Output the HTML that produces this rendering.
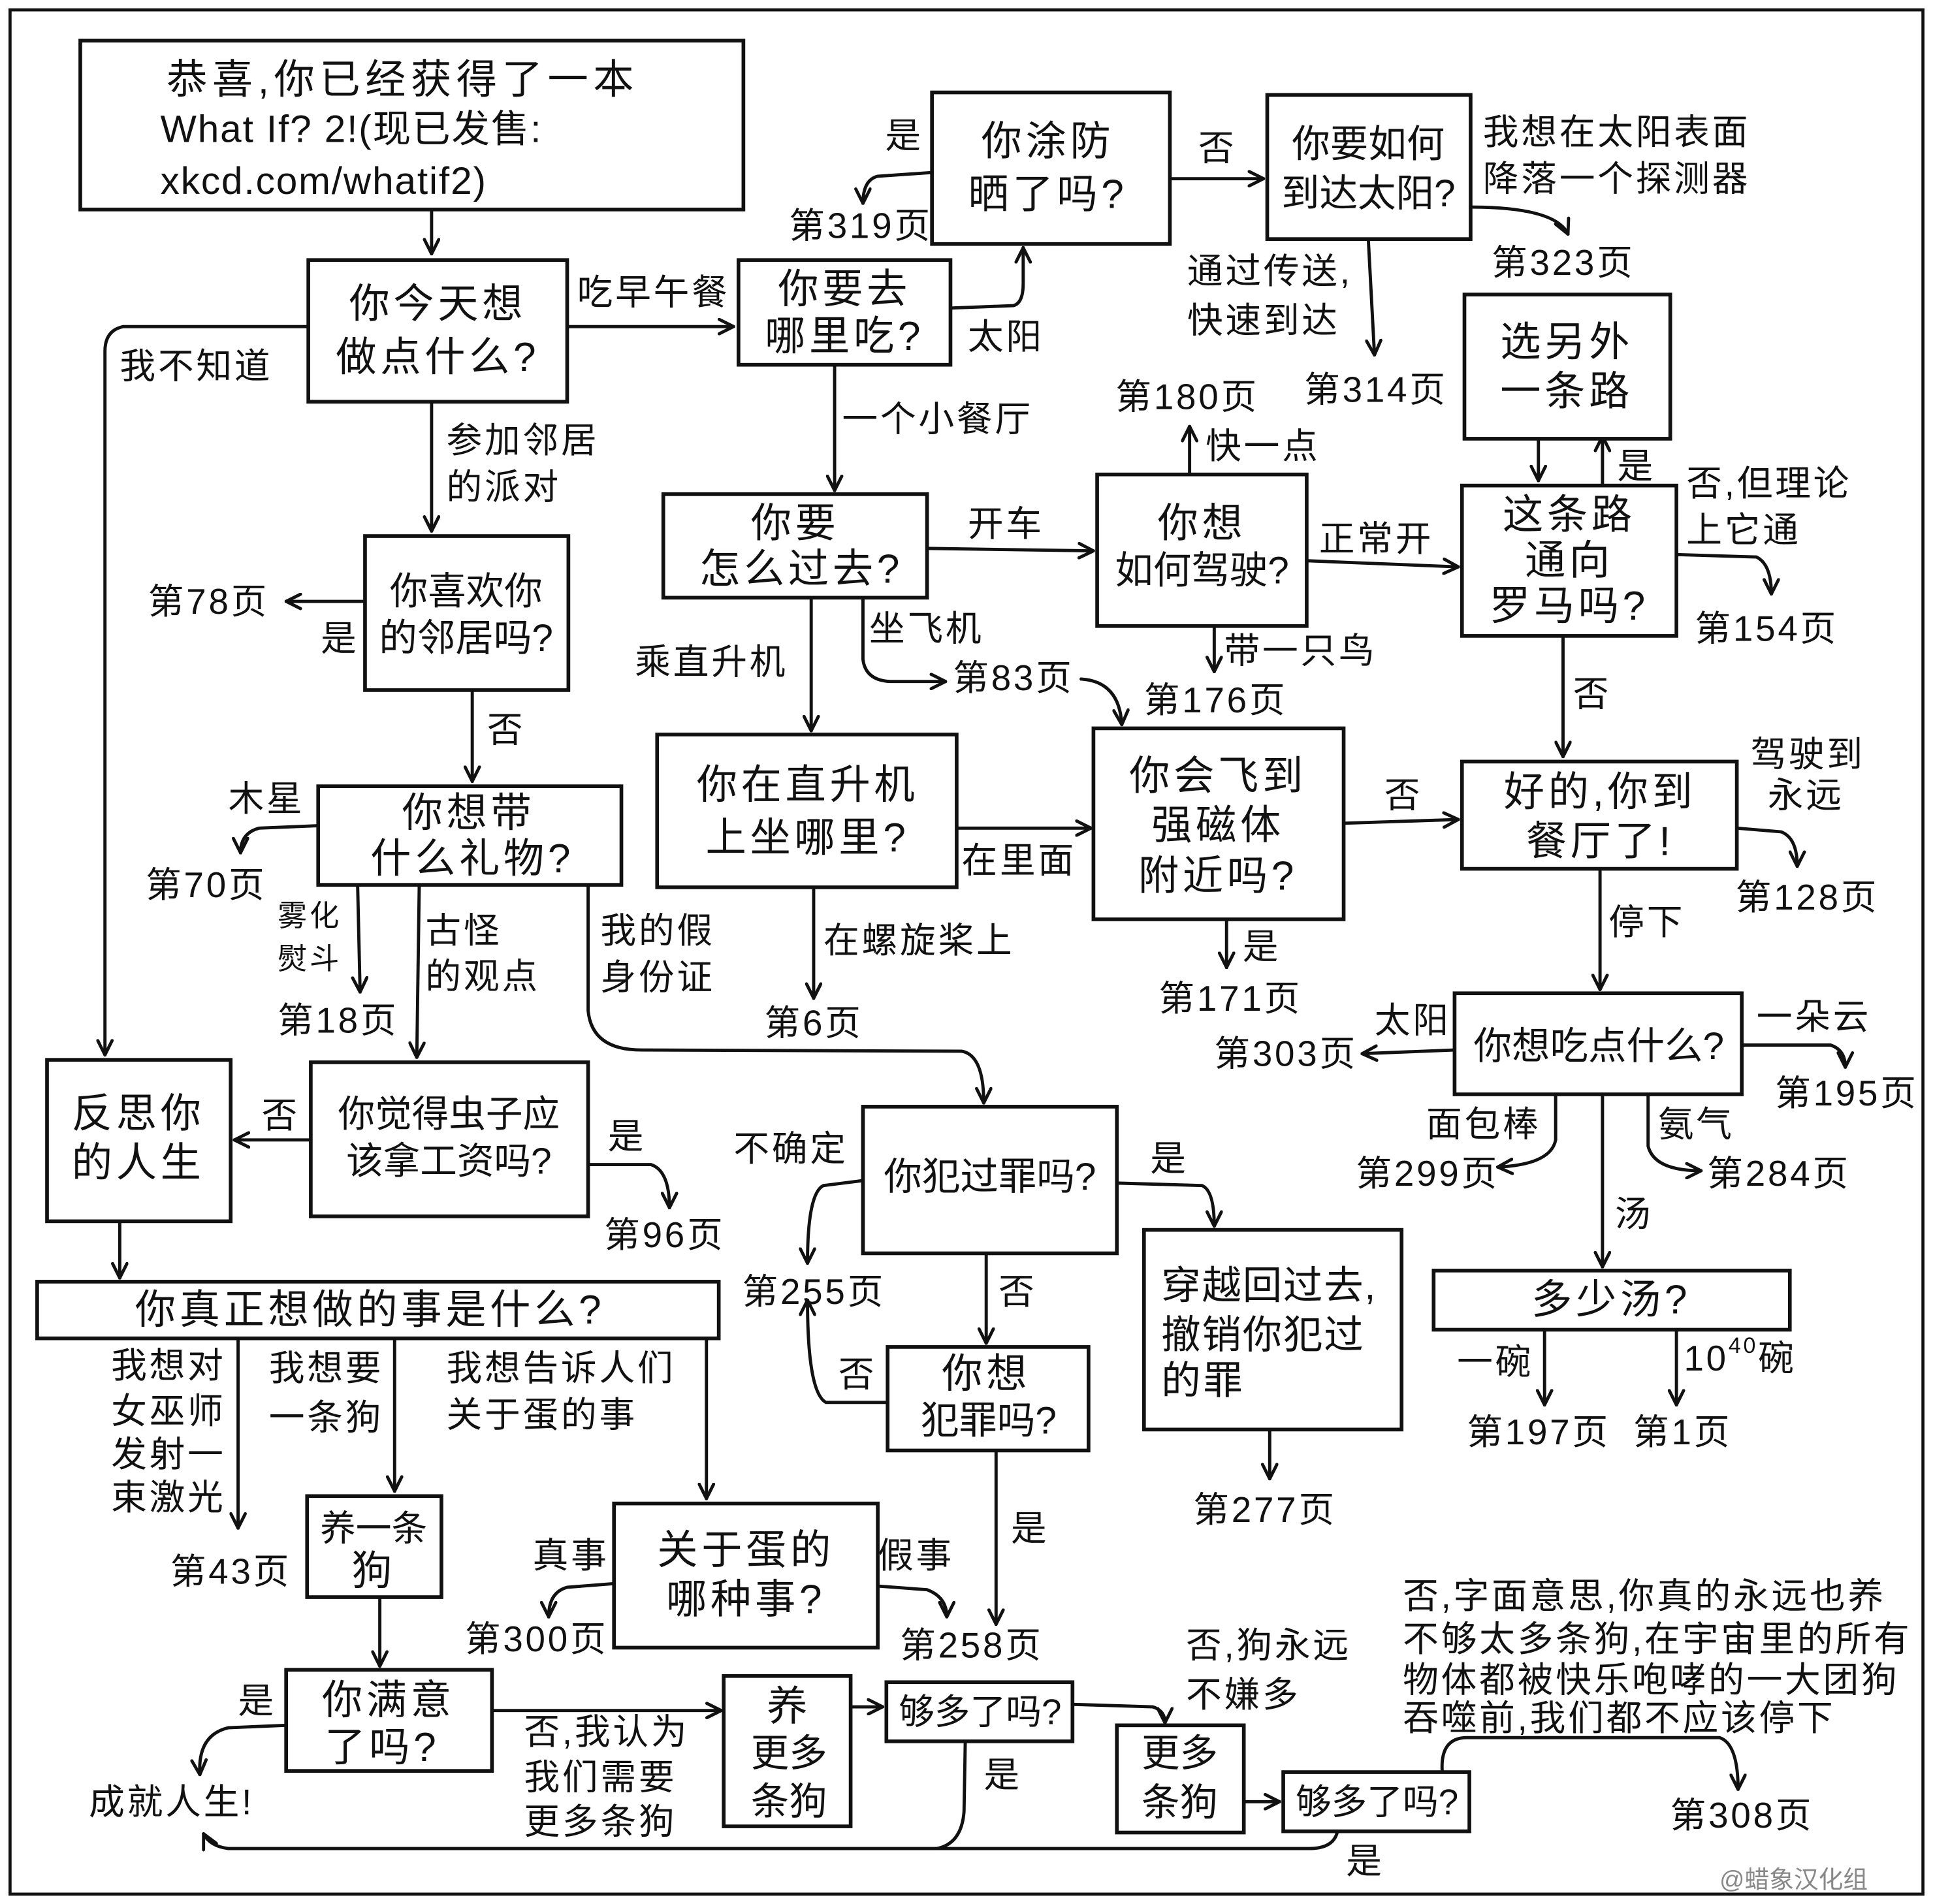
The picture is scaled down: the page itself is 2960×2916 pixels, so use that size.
<!DOCTYPE html>
<html><head><meta charset="utf-8">
<style>
html,body{margin:0;padding:0;background:#fff;}
svg{display:block;}
text{font-family:"Liberation Sans","Noto Sans CJK SC",sans-serif;fill:#111;dominant-baseline:central;}
.b{font-size:33px;letter-spacing:3px;text-anchor:middle;}
.t{letter-spacing:0px;font-size:31px;}
.l{font-size:29px;letter-spacing:2px;}
.s{font-size:24px;}
rect{fill:#fff;stroke:#111;stroke-width:3;}
path,line{fill:none;stroke:#111;stroke-width:2.6;stroke-linecap:round;}
</style></head><body>
<svg width="2960" height="2916" viewBox="0 0 1568 1545" xmlns="http://www.w3.org/2000/svg">
<defs><marker id="a" viewBox="0 0 12 12" refX="11" refY="6" markerWidth="14" markerHeight="14" markerUnits="userSpaceOnUse" orient="auto"><path d="M1,1 L11,6 L1,11" style="stroke-width:2.2"/></marker></defs>
<rect x="8" y="8" width="1552" height="1529" style="stroke-width:2.5"/>

<g marker-end="url(#a)">
<path d="M350,170 L350,206"/>
<path d="M460,265 L595,265"/>
<path d="M250,265 L100,265 Q85,268 85,285 L85,856"/>
<path d="M350,326 L350,431"/>
<path d="M771,250 L822,248 Q830,246 830,230 L830,201"/>
<path d="M677,296 L677,398"/>
<path d="M756,140 L712,143 Q700,146 700,165"/>
<path d="M949,145 L1025,145"/>
<path d="M1192,168 Q1262,168 1272,190"/>
<path d="M1110,194 L1115,288"/>
<path d="M1248,356 L1248,390"/>
<path d="M1300,394 L1300,354"/>
<path d="M1360,450 L1425,452 Q1437,458 1437,482"/>
<path d="M1268,516 L1268,614"/>
<path d="M965,385 L965,346"/>
<path d="M1060,455 L1183,460"/>
<path d="M985,508 L985,545"/>
<path d="M752,445 L887,447"/>
<path d="M658,485 L658,593"/>
<path d="M700,485 L700,535 Q702,552 722,553 L767,553"/>
<path d="M877,551 Q908,553 910,588"/>
<path d="M296,488 L232,488"/>
<path d="M383,560 L383,634"/>
<path d="M258,670 L210,672 Q195,676 195,692"/>
<path d="M290,718 L292,805"/>
<path d="M340,718 L338,858"/>
<path d="M477,718 L477,820 Q480,852 520,852 L780,853 Q798,856 798,895"/>
<path d="M776,672 L885,672"/>
<path d="M660,720 L660,810"/>
<path d="M1090,668 L1183,665"/>
<path d="M995,746 L995,785"/>
<path d="M1409,672 L1445,675 Q1458,680 1458,703"/>
<path d="M1298,705 L1298,803"/>
<path d="M1180,852 L1105,855"/>
<path d="M1413,848 L1485,848 Q1497,852 1497,866"/>
<path d="M1262,888 L1262,925 Q1258,945 1215,947"/>
<path d="M1337,888 L1337,930 Q1342,950 1380,950"/>
<path d="M1300,888 L1300,1028"/>
<path d="M1253,1079 L1253,1140"/>
<path d="M1360,1079 L1360,1140"/>
<path d="M252,925 L190,925"/>
<path d="M477,945 L528,945 Q543,950 543,980"/>
<path d="M97,991 L97,1037"/>
<path d="M193,1086 L193,1240"/>
<path d="M320,1086 L320,1210"/>
<path d="M573,1086 L573,1216"/>
<path d="M700,958 L668,962 Q655,968 655,1025"/>
<path d="M720,1138 L670,1138 Q655,1130 655,1055"/>
<path d="M906,960 L975,962 Q985,966 985,995"/>
<path d="M800,1017 L800,1090"/>
<path d="M1030,1160 L1030,1200"/>
<path d="M808,1177 L808,1318"/>
<path d="M498,1285 L460,1288 Q445,1292 445,1312"/>
<path d="M712,1287 L752,1290 Q768,1296 768,1312"/>
<path d="M308,1296 L308,1352"/>
<path d="M232,1400 L185,1402 Q160,1408 162,1440"/>
<path d="M399,1388 L585,1388"/>
<path d="M690,1385 L716,1385"/>
<path d="M870,1383 L935,1385 Q945,1388 945,1398"/>
<path d="M1085,1486 Q1082,1500 1062,1500 L185,1500 Q170,1498 165,1488"/>
<path d="M1009,1462 L1038,1462"/>
<path d="M1170,1438 Q1168,1410 1190,1410 L1395,1410 Q1410,1415 1410,1452"/>
</g>
<path d="M783,1413 L782,1470 Q780,1496 760,1500"/>

<rect x="65" y="33" width="538" height="137"/>
<text class="l" style="font-size:33px;letter-spacing:4px" x="135" y="65">恭喜,你已经获得了一本</text>
<text class="l" style="font-size:31px;letter-spacing:1px" x="130" y="105">What If? 2!(现已发售:</text>
<text class="l" style="font-size:31px;letter-spacing:1px" x="130" y="147">xkcd.com/whatif2)</text>

<rect x="250" y="211" width="210" height="115"/>
<text class="b" x="355" y="247">你今天想</text><text class="b" x="355" y="290">做点什么?</text>
<rect x="599" y="211" width="172" height="85"/>
<text class="b" x="685" y="235">你要去</text><text class="b" x="685" y="273">哪里吃?</text>
<rect x="756" y="75" width="193" height="123"/>
<text class="b" x="850" y="115">你涂防</text><text class="b" x="850" y="158">晒了吗?</text>
<rect x="1028" y="77" width="165" height="117"/>
<text class="b t" x="1110" y="117">你要如何</text><text class="b t" x="1110" y="157">到达太阳?</text>
<rect x="1188" y="239" width="167" height="117"/>
<text class="b" x="1271" y="278">选另外</text><text class="b" x="1271" y="318">一条路</text>
<rect x="1186" y="394" width="174" height="122"/>
<text class="b" x="1273" y="418">这条路</text><text class="b" x="1273" y="455">通向</text><text class="b" x="1273" y="492">罗马吗?</text>
<rect x="890" y="385" width="170" height="123"/>
<text class="b" x="975" y="425">你想</text><text class="b t" x="975" y="463">如何驾驶?</text>
<rect x="538" y="401" width="214" height="84"/>
<text class="b" x="645" y="425">你要</text><text class="b" x="650" y="462">怎么过去?</text>
<rect x="296" y="435" width="165" height="125"/>
<text class="b t" x="378" y="480">你喜欢你</text><text class="b t" x="378" y="518">的邻居吗?</text>
<rect x="258" y="638" width="246" height="80"/>
<text class="b" x="380" y="660">你想带</text><text class="b" x="383" y="697">什么礼物?</text>
<rect x="533" y="596" width="243" height="124"/>
<text class="b" x="655" y="637">你在直升机</text><text class="b" x="655" y="680">上坐哪里?</text>
<rect x="887" y="591" width="203" height="155"/>
<text class="b" x="988" y="630">你会飞到</text><text class="b" x="988" y="670">强磁体</text><text class="b" x="988" y="711">附近吗?</text>
<rect x="1186" y="618" width="223" height="87"/>
<text class="b" x="1298" y="643">好的,你到</text><text class="b" x="1298" y="683">餐厅了!</text>
<rect x="1180" y="806" width="233" height="82"/>
<text class="b t" x="1297" y="849">你想吃点什么?</text>
<rect x="1163" y="1031" width="289" height="48"/>
<text class="b" x="1307" y="1055">多少汤?</text>
<rect x="38" y="860" width="149" height="131"/>
<text class="b" x="112" y="904">反思你</text><text class="b" x="112" y="944">的人生</text>
<rect x="252" y="862" width="225" height="125"/>
<text class="b t" style="font-size:30px" x="364" y="904">你觉得虫子应</text><text class="b t" style="font-size:30px" x="364" y="942">该拿工资吗?</text>
<rect x="30" y="1040" width="553" height="46"/>
<text class="b" x="300" y="1063">你真正想做的事是什么?</text>
<rect x="700" y="898" width="206" height="119"/>
<text class="b t" x="803" y="955">你犯过罪吗?</text>
<rect x="928" y="998" width="209" height="162"/>
<text class="l" style="font-size:32px;letter-spacing:1px" x="942" y="1043">穿越回过去,</text><text class="l" style="font-size:32px;letter-spacing:1px" x="942" y="1083">撤销你犯过</text><text class="l" style="font-size:32px" x="942" y="1120">的罪</text>
<rect x="720" y="1093" width="163" height="84"/>
<text class="b" x="800" y="1115">你想</text><text class="b t" x="802" y="1153">犯罪吗?</text>
<rect x="249" y="1214" width="109" height="82"/>
<text class="b t" style="font-size:29px" x="303" y="1240">养一条</text><text class="b" x="303" y="1275">狗</text>
<rect x="498" y="1220" width="214" height="117"/>
<text class="b" x="605" y="1258">关于蛋的</text><text class="b" x="605" y="1298">哪种事?</text>
<rect x="232" y="1355" width="167" height="82"/>
<text class="b" x="315" y="1380">你满意</text><text class="b" x="310" y="1418">了吗?</text>
<rect x="587" y="1360" width="103" height="122"/>
<text class="b" x="640" y="1385">养</text><text class="b t" x="640" y="1423">更多</text><text class="b t" x="640" y="1462">条狗</text>
<rect x="719" y="1365" width="151" height="48"/>
<text class="b t" style="font-size:29px" x="795" y="1389">够多了吗?</text>
<rect x="906" y="1400" width="103" height="87"/>
<text class="b t" x="957" y="1423">更多</text><text class="b t" x="957" y="1463">条狗</text>
<rect x="1041" y="1438" width="151" height="48"/>
<text class="b t" style="font-size:29px" x="1117" y="1462">够多了吗?</text>

<g class="l">
<text x="468" y="237">吃早午餐</text>
<text x="97" y="297">我不知道</text>
<text x="362" y="357">参加邻居</text><text x="362" y="395">的派对</text>
<text x="785" y="273">太阳</text>
<text x="683" y="340">一个小餐厅</text>
<text x="718" y="110">是</text>
<text x="640" y="183">第319页</text>
<text x="972" y="120">否</text>
<text x="1203" y="107">我想在太阳表面</text><text x="1203" y="145">降落一个探测器</text>
<text x="1210" y="213">第323页</text>
<text x="963" y="220">通过传送,</text><text x="963" y="260">快速到达</text>
<text x="1058" y="316">第314页</text>
<text x="1312" y="378">是</text>
<text x="1368" y="392">否,但理论</text><text x="1368" y="430">上它通</text>
<text x="1375" y="510">第154页</text>
<text x="1276" y="563">否</text>
<text x="978" y="362">快一点</text>
<text x="905" y="322">第180页</text>
<text x="1070" y="437">正常开</text>
<text x="993" y="528">带一只鸟</text>
<text x="928" y="568">第176页</text>
<text x="785" y="425">开车</text>
<text x="515" y="537">乘直升机</text>
<text x="705" y="510">坐飞机</text>
<text x="773" y="550">第83页</text>
<text x="120" y="488">第78页</text>
<text x="260" y="518">是</text>
<text x="395" y="592">否</text>
<text x="185" y="648">木星</text>
<text x="118" y="718">第70页</text>
<text class="s" x="225" y="743">雾化</text><text class="s" x="225" y="778">熨斗</text>
<text x="225" y="828">第18页</text>
<text x="345" y="755">古怪</text><text x="345" y="792">的观点</text>
<text x="487" y="755">我的假</text><text x="487" y="793">身份证</text>
<text x="780" y="698">在里面</text>
<text x="668" y="763">在螺旋桨上</text>
<text x="620" y="830">第6页</text>
<text x="1123" y="645">否</text>
<text x="1008" y="768">是</text>
<text x="940" y="810">第171页</text>
<text x="1420" y="612">驾驶到</text><text x="1434" y="645">永远</text>
<text x="1408" y="728">第128页</text>
<text x="1305" y="748">停下</text>
<text x="1115" y="828">太阳</text>
<text x="985" y="855">第303页</text>
<text x="1425" y="825">一朵云</text>
<text x="1440" y="887">第195页</text>
<text x="1157" y="912">面包棒</text>
<text x="1100" y="952">第299页</text>
<text x="1345" y="912">氨气</text>
<text x="1385" y="952">第284页</text>
<text x="1310" y="985">汤</text>
<text x="1182" y="1105">一碗</text>
<text x="1366" y="1102">10<tspan style="font-size:18px" dy="-10">40</tspan><tspan dy="10">碗</tspan></text>
<text x="1190" y="1162">第197页</text>
<text x="1325" y="1162">第1页</text>
<text x="212" y="905">否</text>
<text x="493" y="922">是</text>
<text x="490" y="1002">第96页</text>
<text x="90" y="1108">我想对</text><text x="90" y="1145">女巫师</text><text x="90" y="1180">发射一</text><text x="90" y="1215">束激光</text>
<text x="138" y="1275">第43页</text>
<text x="218" y="1110">我想要</text><text x="218" y="1150">一条狗</text>
<text x="362" y="1110">我想告诉人们</text><text x="362" y="1148">关于蛋的事</text>
<text x="595" y="932">不确定</text>
<text x="602" y="1048">第255页</text>
<text x="680" y="1115">否</text>
<text x="933" y="940">是</text>
<text x="810" y="1048">否</text>
<text x="968" y="1225">第277页</text>
<text x="820" y="1240">是</text>
<text x="730" y="1335">第258页</text>
<text x="432" y="1262">真事</text>
<text x="377" y="1330">第300页</text>
<text x="712" y="1262">假事</text>
<text x="193" y="1380">是</text>
<text x="72" y="1462">成就人生!</text>
<text x="425" y="1405">否,我认为</text><text x="425" y="1442">我们需要</text><text x="425" y="1478">更多条狗</text>
<text x="962" y="1335">否,狗永远</text><text x="962" y="1375">不嫌多</text>
<text x="798" y="1440">是</text>
<text x="1092" y="1510">是</text>
<text x="1138" y="1295">否,字面意思,你真的永远也养</text>
<text x="1138" y="1330">不够太多条狗,在宇宙里的所有</text>
<text x="1138" y="1363">物体都被快乐咆哮的一大团狗</text>
<text x="1138" y="1394">吞噬前,我们都不应该停下</text>
<text x="1355" y="1473">第308页</text>
</g>
<text x="1395" y="1525" style="font-size:20px;fill:#888">@蜡象汉化组</text>
</svg>
</body></html>
